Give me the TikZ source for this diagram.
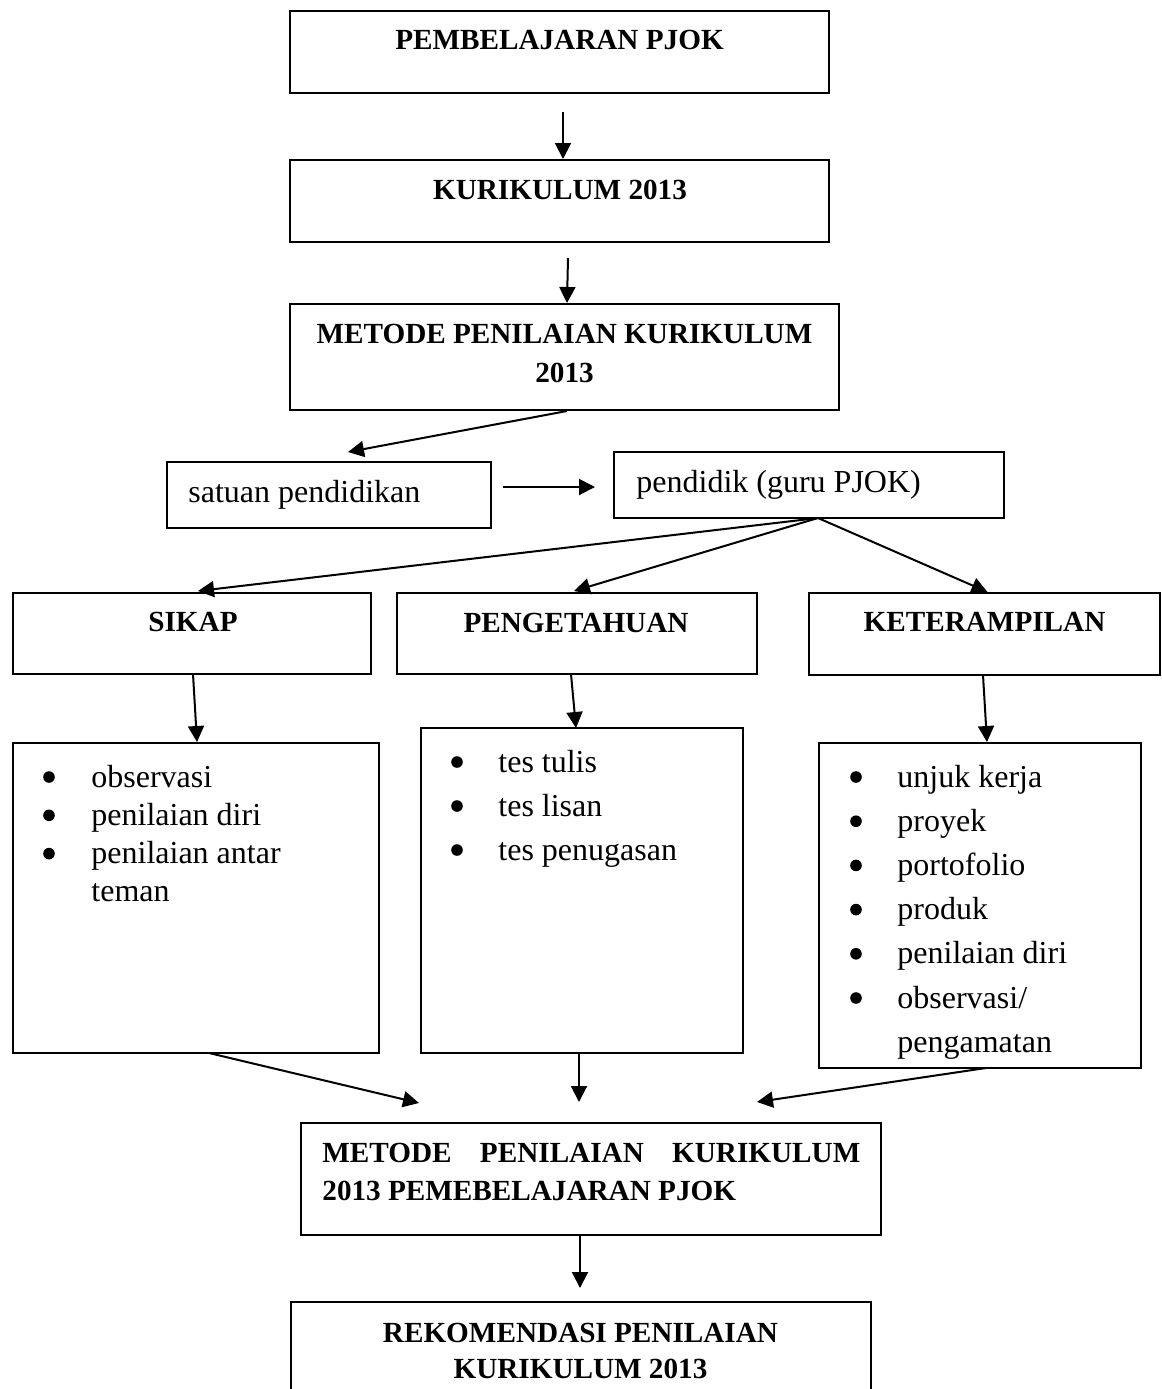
\documentclass[tikz,border=0pt]{standalone}
\usepackage{fontspec}
\setmainfont{Liberation Serif}
\usetikzlibrary{arrows.meta,calc}

% type sizes: bold headings and plain body text
\newcommand\hdsize{\fontsize{14.6pt}{19pt}\selectfont\bfseries}
\newcommand\bdsize{\fontsize{16pt}{20pt}\selectfont}

\begin{document}
\begin{tikzpicture}[x=0.5pt,y=-0.5pt,
  box/.style={draw, line width=1pt, inner sep=0pt, outer sep=0pt, anchor=north west},
  heading/.style={font=\hdsize, inner sep=0pt, anchor=base},
  plain/.style={font=\bdsize, inner sep=0pt, anchor=base west},
  arr/.style={line width=1pt, -{Triangle[length=8pt,width=8pt]}},
  dot/.style={fill=black}]

\useasboundingbox (0,0) rectangle (1162,1389);

% ---- boxes ----
\node[box, minimum width=269.5pt, minimum height=41pt]   (b1)  at (290,11)  {};
\node[box, minimum width=269.5pt, minimum height=41pt]   (b2)  at (290,160) {};
\node[box, minimum width=274.5pt, minimum height=53pt]   (b3)  at (290,304) {};
\node[box, minimum width=162pt,   minimum height=33pt]   (sat) at (167,462) {};
\node[box, minimum width=195pt,   minimum height=33pt]   (pen) at (614,452) {};
\node[box, minimum width=179pt,   minimum height=40.5pt] (sik) at (13,593)  {};
\node[box, minimum width=180pt,   minimum height=40.5pt] (pgt) at (397,593) {};
\node[box, minimum width=175.5pt, minimum height=41pt]   (ket) at (809,593) {};
\node[box, minimum width=183pt,   minimum height=155pt]  (l1)  at (13,743)  {};
\node[box, minimum width=161pt,   minimum height=162.5pt](l2)  at (421,728) {};
\node[box, minimum width=161pt,   minimum height=162.5pt](l3)  at (819,743) {};
\node[box, minimum width=290pt,   minimum height=56pt]   (mb)  at (301,1123){};
\node[box, minimum width=290pt,   minimum height=60pt]   (rk)  at (291,1302){};

% ---- texts ----
\node[heading] (t1) at (559.5,49) {PEMBELAJARAN PJOK};
\node[heading] (t2) at (560,199) {KURIKULUM 2013};
\node[heading] (t3) at (564.5,343)
  {\parbox[t]{270pt}{\centering\hdsize\fontsize{14.6pt}{19.5pt}\selectfont
   METODE PENILAIAN KURIKULUM\\2013}};
\node[plain] (tsat) at (188,502) {satuan pendidikan};
\node[plain] (tpen) at (636,492) {pendidik (guru PJOK)};
\node[heading] (tsik) at (193,631) {SIKAP};
\node[heading] (tpgt) at (576,632) {PENGETAHUAN};
\node[heading] (tket) at (984.5,631) {KETERAMPILAN};

% bullet lists
\node[plain] (tl1) at (91,787)
  {\parbox[t]{150pt}{\fontsize{16pt}{19.15pt}\selectfont
   observasi\\
   penilaian diri\\
   penilaian antar\\
   teman}};
\foreach \y in {777,815.3,853.6} \fill[dot] (49,\y) circle[radius=2.9pt];

\node[plain] (tl2) at (498,772)
  {\parbox[t]{120pt}{\fontsize{16pt}{22pt}\selectfont
   tes tulis\\
   tes lisan\\
   tes penugasan}};
\foreach \y in {762,806,850} \fill[dot] (457,\y) circle[radius=2.9pt];

\node[plain] (tl3) at (897,787)
  {\parbox[t]{120pt}{\fontsize{16pt}{22.1pt}\selectfont
   unjuk kerja\\
   proyek\\
   portofolio\\
   produk\\
   penilaian diri\\
   observasi/\\
   pengamatan}};
\foreach \y in {777,821.2,865.4,909.6,953.8,998} \fill[dot] (856,\y) circle[radius=2.9pt];

\node[anchor=base west, inner sep=0pt] (tmb) at (322,1162)
  {\parbox[t]{269pt}{\hdsize\fontsize{14.6pt}{19pt}\selectfont
   \makebox[269pt][s]{METODE PENILAIAN KURIKULUM}\\
   2013 PEMEBELAJARAN PJOK}};
\node[heading] (trk) at (580.5,1342)
  {\parbox[t]{290pt}{\centering\hdsize\fontsize{14.6pt}{18pt}\selectfont
   REKOMENDASI PENILAIAN\\KURIKULUM 2013}};

% ---- connectors ----
\coordinate (fork) at ($(pen.south)+(9,0)$);

\draw[arr] ($(b1.south)+(3.5,19)$) -- ($(b2.north)+(3.5,-1)$);
\draw[arr] ($(b2.south)+(8.5,16)$) -- ($(b3.north)+(2.5,-1)$);
\draw[arr] ($(b3.south)+(2.5,1)$)  -- ($(sat.north)+(19,-10)$);
\draw[arr] ($(sat.east)+(12,-8)$)  -- ($(pen.west)+(-19,2)$);

\draw[arr] (fork) -- ($(sik.north)+(6,-2)$);
\draw[arr] (fork) -- ($(pgt.north)+(-3,-2)$);
\draw[arr] (fork) -- ($(ket.north)+(3,-1)$);

\draw[arr] ($(sik.south)+(1,0)$)    -- ($(l1.north)+(1,-1)$);
\draw[arr] ($(pgt.south)+(-6,0)$)   -- ($(l2.north)+(-6,0)$);
\draw[arr] ($(ket.south)+(-1.5,0)$) -- ($(l3.north)+(7,-1)$);

\draw[arr] ($(l1.south)+(13,0)$) -- ($(mb.north)+(-172,-20)$);
\draw[arr] ($(l2.south)+(-3,0)$) -- ($(mb.north)+(-12,-21)$);
\draw[arr] ($(l3.south)+(6,0)$)  -- ($(mb.north)+(166,-21)$);

\draw[arr] ($(mb.south)+(-11,0)$) -- ($(rk.north)+(-1,-14)$);
\end{tikzpicture}
\end{document}
